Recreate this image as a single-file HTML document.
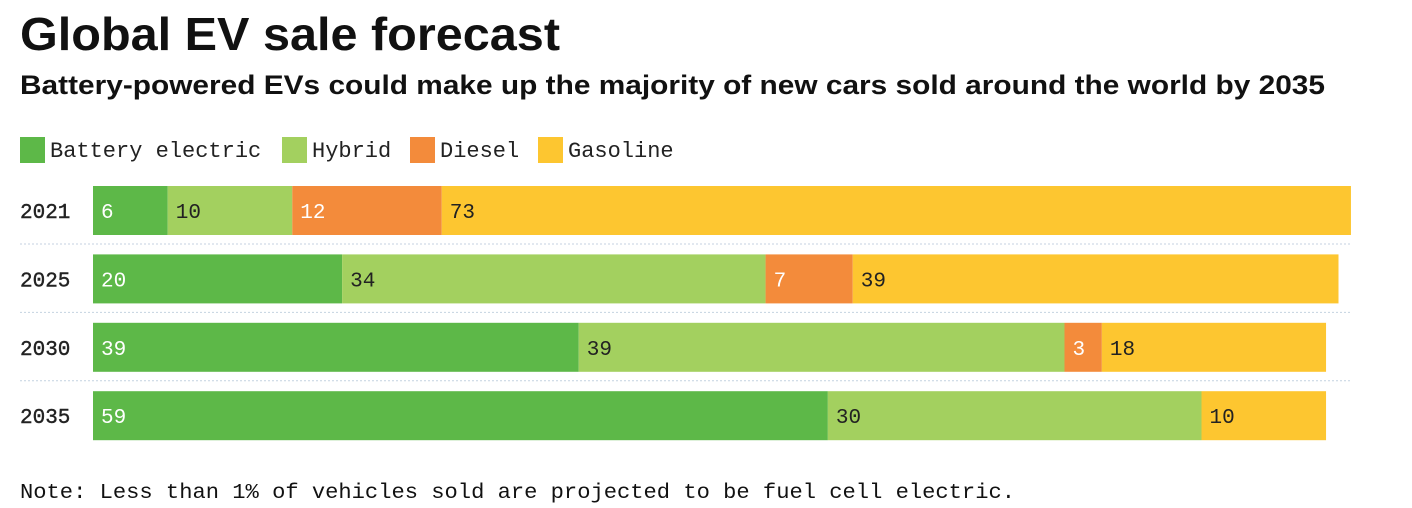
<!DOCTYPE html>
<html><head><meta charset="utf-8"><style>
html,body{margin:0;padding:0;background:#fff;}
svg{display:block;}
.mono{font-family:"Liberation Mono","DejaVu Sans Mono",monospace;}
.sans{font-family:"Liberation Sans",sans-serif;font-weight:bold;}
</style></head><body>
<svg id="chart" width="1412" height="508" viewBox="0 0 1412 508">
<text class="sans" x="20" y="50" font-size="46" fill="#111" textLength="540" lengthAdjust="spacingAndGlyphs">Global EV sale forecast</text>
<text class="sans" x="20" y="94" font-size="27" fill="#111" textLength="1305" lengthAdjust="spacingAndGlyphs">Battery-powered EVs could make up the majority of new cars sold around the world by 2035</text>
<g id="legend"></g>
<g id="bars"></g>
<text class="mono" x="20" y="498" font-size="21" fill="#111" textLength="995" lengthAdjust="spacingAndGlyphs">Note: Less than 1% of vehicles sold are projected to be fuel cell electric.</text>
</svg>
<script>
const years = ["2021","2025","2030","2035"];
const seriesNames = ["Battery electric","Hybrid","Diesel","Gasoline"];
const batteryElectric = [6,20,39,59];
const hybrid = [10,34,39,30];
const diesel = [12,7,3,0];
const gasoline = [73,39,18,10];

const series=[batteryElectric,hybrid,diesel,gasoline];
const colors=["#5db848","#a3d05f","#f38b3b","#fdc630"];
const textColors=["#fff","#222","#fff","#222"];
const NS="http://www.w3.org/2000/svg";
const x0=93, unit=12.455;
const xScale=v=>x0+v*unit;
const rowTop=i=>186+i*68.4;
const barH=49;
function mk(tag,attrs,parent){const e=document.createElementNS(NS,tag);for(const k in attrs)e.setAttribute(k,attrs[k]);parent.appendChild(e);return e;}

const legend=document.getElementById('legend');
const legendX=[20,282,410,538];
seriesNames.forEach((n,i)=>{
  const r=mk('rect',{x:legendX[i],y:137,width:25,height:26,fill:colors[i]},legend);
  
  
  const t=mk('text',{x:legendX[i]+30,y:157,'font-size':22,fill:'#222',class:'mono'},legend);
  t.textContent=n;
  
  
});

const bars=document.getElementById('bars');
years.forEach((y,i)=>{
  const top=rowTop(i);
  const yl=mk('text',{x:20,y:top+32,'font-size':21,fill:'#222',class:'mono','stroke':'#222','stroke-width':0.4},bars);
  yl.textContent=y;
  
  
  let cum=0;
  series.forEach((s,j)=>{
    const v=s[i]; if(!v) return;
    const xa=xScale(cum), xb=xScale(cum+v);
    const r=mk('rect',{x:xa,y:top,width:xb-xa,height:barH,fill:colors[j]},bars);
    
    
    const t=mk('text',{x:xa+8,y:top+32,'font-size':21,fill:textColors[j],class:'mono'},bars);
    t.textContent=v;
    
    
    cum+=v;
  });
  if(i<years.length-1){
    const l=mk('line',{x1:20,x2:1352,y1:top+58,y2:top+58,stroke:'#c4d2e0','stroke-width':1,'stroke-dasharray':'2,2'},bars);
    
    
  }
});
</script>
</body></html>
